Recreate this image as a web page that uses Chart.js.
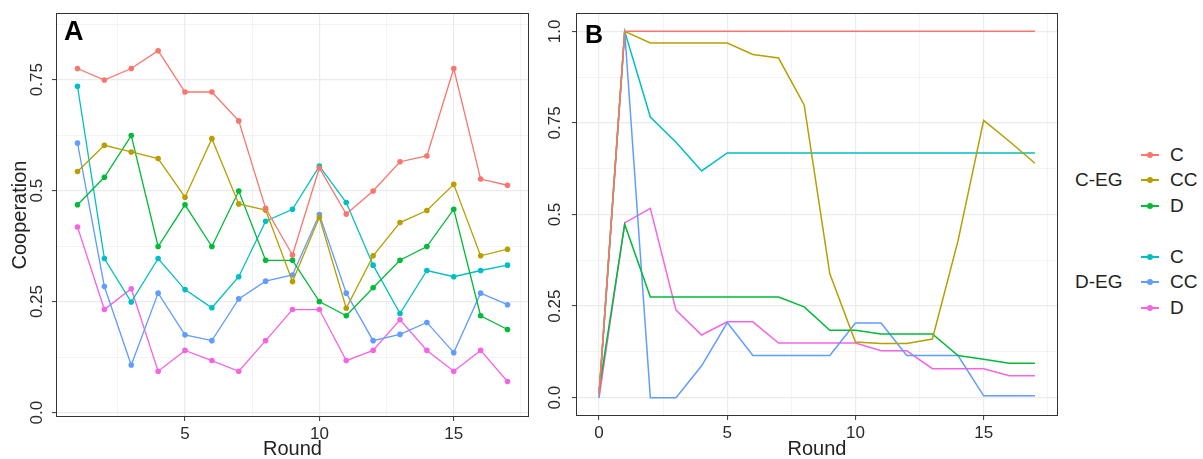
<!DOCTYPE html>
<html>
<head>
<meta charset="utf-8">
<script src="https://cdn.jsdelivr.net/npm/chart.js@4"></script>
<style>
  body { margin: 0; background: #fff; width: 1203px; height: 459px; position: relative; overflow: hidden;
         font-family: "Liberation Sans", Arial, sans-serif; }
  #boxA { position: absolute; left: 0; top: 0; width: 545px; height: 459px; }
  #boxB { position: absolute; left: 545px; top: 0; width: 520px; height: 459px; }
  #legend { position: absolute; left: 1072px; top: 142px; color: #222; }
  .grp { display: flex; align-items: center; height: 76.5px; margin-bottom: 25.5px; }
  .grp .title { width: 66px; padding-left: 3px; font-size: 19px; }
  .row { display: flex; align-items: center; height: 25.5px; font-size: 19px; }
  .key { position: relative; width: 18px; height: 10px; margin-right: 11px; }
  .key .ln { position: absolute; left: 0; top: 4px; width: 18px; height: 2px; }
  .key .dt { position: absolute; left: 6px; top: 2px; width: 6px; height: 6px; border-radius: 50%; }
</style>
</head>
<body>
<div id="boxA"><canvas id="chartA"></canvas></div>
<div id="boxB"><canvas id="chartB"></canvas></div>
<div id="legend"></div>
<script>
// ---- data ----
const roundsA = [1, 2, 3, 4, 5, 6, 7, 8, 9, 10, 11, 12, 13, 14, 15, 16, 17];
const roundsB = [0, 1, 2, 3, 4, 5, 6, 7, 8, 9, 10, 11, 12, 13, 14, 15, 16, 17];

const groups = ['C-EG', 'D-EG'];
const types = ['C', 'CC', 'D'];
const colors = [['#F8766D', '#B79F00', '#00BA38'], ['#00BFC4', '#619CFF', '#F564E3']];

// panel A (empirical)
const aCegC  = [0.775, 0.749, 0.775, 0.815, 0.722, 0.722, 0.657, 0.46, 0.355, 0.551, 0.447, 0.499, 0.565, 0.578, 0.775, 0.526, 0.512];
const aCegCC = [0.543, 0.602, 0.587, 0.572, 0.485, 0.617, 0.470, 0.456, 0.295, 0.44, 0.235, 0.353, 0.428, 0.455, 0.514, 0.353, 0.368];
const aCegD  = [0.468, 0.530, 0.624, 0.374, 0.468, 0.374, 0.499, 0.343, 0.343, 0.25, 0.218, 0.281, 0.343, 0.374, 0.458, 0.218, 0.187];
const aDegC  = [0.735, 0.347, 0.249, 0.347, 0.277, 0.236, 0.306, 0.431, 0.458, 0.555, 0.473, 0.332, 0.223, 0.320, 0.306, 0.320, 0.332];
const aDegCC = [0.607, 0.284, 0.107, 0.269, 0.175, 0.162, 0.256, 0.296, 0.310, 0.446, 0.269, 0.162, 0.176, 0.203, 0.135, 0.269, 0.243];
const aDegD  = [0.418, 0.232, 0.279, 0.093, 0.140, 0.117, 0.093, 0.162, 0.232, 0.232, 0.117, 0.140, 0.209, 0.140, 0.093, 0.140, 0.070];

// panel B (model)
const bCegC  = [0.01, 1, 1, 1, 1, 1, 1, 1, 1, 1, 1, 1, 1, 1, 1, 1, 1, 1];
const bCegCC = [0.01, 1.0, 0.968, 0.968, 0.968, 0.968, 0.937, 0.927, 0.799, 0.338, 0.152, 0.148, 0.148, 0.160, 0.428, 0.757, 0.70, 0.640];
const bCegD  = [0.02, 0.473, 0.275, 0.275, 0.275, 0.275, 0.275, 0.275, 0.248, 0.184, 0.184, 0.174, 0.174, 0.174, 0.115, 0.105, 0.094, 0.094];
const bDegC  = [0.01, 1.0, 0.766, 0.697, 0.619, 0.668, 0.668, 0.668, 0.668, 0.668, 0.668, 0.668, 0.668, 0.668, 0.668, 0.668, 0.668, 0.668];
const bDegCC = [0, 1.0, 0, 0, 0.087, 0.205, 0.115, 0.115, 0.115, 0.115, 0.204, 0.204, 0.115, 0.115, 0.115, 0.005, 0.005, 0.005];
const bDegD  = [0, 0.477, 0.517, 0.239, 0.171, 0.207, 0.207, 0.149, 0.149, 0.149, 0.149, 0.128, 0.128, 0.079, 0.079, 0.079, 0.060, 0.060];

// ticks
const yTickVals = [0, 0.25, 0.5, 0.75, 1];
const yTickLabels = ['0.0', '0.25', '0.5', '0.75', '1.0'];
const yGridVals = [0, 0.125, 0.25, 0.375, 0.5, 0.625, 0.75, 0.875, 1];
const xTickValsA = [5, 10, 15];
const xTickLabelsA = ['5', '10', '15'];
const xGridValsA = [2.5, 5, 7.5, 10, 12.5, 15, 17.5];
const xTickValsB = [0, 5, 10, 15];
const xTickLabelsB = ['0', '5', '10', '15'];
const xGridValsB = [0, 2.5, 5, 7.5, 10, 12.5, 15, 17.5];

const seriesA = [[aCegC, aCegCC, aCegD], [aDegC, aDegCC, aDegD]];
const seriesB = [[bCegC, bCegCC, bCegD], [bDegC, bDegCC, bDegD]];

// ---- helpers ----
const FONT = '"Liberation Sans", Arial, sans-serif';

function makeSets(series, xs, withPoints) {
    let sets = [];
    groups.forEach((g, gi) => {
        types.forEach((t, ti) => {
            sets.push({
                label: g + ' ' + t,
                data: series[gi][ti].map((v, i) => ({x: xs[i], y: v})),
                borderColor: colors[gi][ti],
                backgroundColor: colors[gi][ti],
                borderWidth: withPoints ? 1.3 : 1.5,
                pointRadius: withPoints ? 2.8 : 0,
                pointBorderWidth: 0,
                tension: 0
            });
        });
    });
    return sets;
}

function makeAxis(cfg) {
    const isMajor = v => cfg.labelVals.includes(v);
    return {
        type: 'linear',
        min: cfg.min, max: cfg.max,
        afterBuildTicks: s => { s.ticks = cfg.gridVals.filter(v => v >= cfg.min && v <= cfg.max).map(v => ({value: v})); },
        afterFit: s => { if (cfg.width) s.width = cfg.width; if (cfg.height) s.height = cfg.height; },
        border: {display: false},
        grid: {
            color: '#EBEBEB',
            lineWidth: c => (c.tick && isMajor(c.tick.value)) ? 1.2 : 0.6,
            drawTicks: true,
            tickLength: 4,
            tickWidth: 1,
            tickColor: c => (c.tick && isMajor(c.tick.value)) ? '#333' : 'rgba(0,0,0,0)'
        },
        ticks: {
            autoSkip: false,
            color: '#2a2a2a',
            font: {family: FONT, size: 17},
            padding: cfg.pad,
            minRotation: cfg.rot || 0,
            maxRotation: cfg.rot || 0,
            crossAlign: cfg.cross || 'near',
            callback: v => {
                const i = cfg.labelVals.indexOf(v);
                return i >= 0 ? cfg.labels[i] : '';
            }
        },
        title: cfg.title ? {
            display: true, text: cfg.title, color: '#222',
            font: {family: FONT, size: 20, lineHeight: 1},
            padding: cfg.titlePad
        } : {display: false}
    };
}

const frame = {
    id: 'frame',
    afterDatasetsDraw(chart, args, opts) {
        const {ctx, chartArea: a} = chart;
        ctx.save();
        ctx.strokeStyle = '#333';
        ctx.lineWidth = 1;
        ctx.strokeRect(a.left + 0.5, a.top + 0.5, a.right - a.left - 1, a.bottom - a.top - 1);
        ctx.fillStyle = '#000';
        ctx.font = 'bold ' + opts.size + 'px ' + FONT;
        ctx.textBaseline = 'alphabetic';
        ctx.fillText(opts.text, a.left + opts.dx, a.top + opts.dy);
        ctx.restore();
    }
};

function makeChart(id, sets, xAxis, yAxis, pad, letter) {
    return new Chart(document.getElementById(id), {
        type: 'line',
        data: {datasets: sets},
        options: {
            responsive: true,
            maintainAspectRatio: false,
            animation: false,
            layout: {padding: pad},
            plugins: {legend: {display: false}, tooltip: {enabled: false}, frame: letter},
            scales: {x: xAxis, y: yAxis}
        },
        plugins: [frame]
    });
}

// panel A
makeChart('chartA', makeSets(seriesA, roundsA, true),
    makeAxis({min: 0.2, max: 17.8, gridVals: xGridValsA, labelVals: xTickValsA, labels: xTickLabelsA,
              height: 42, pad: 3, title: 'Round', titlePad: {top: 0, bottom: 0}}),
    makeAxis({min: -0.01, max: 0.9, gridVals: yGridVals, labelVals: yTickVals, labels: yTickLabels,
              width: 56, pad: -2, rot: 90, cross: 'center', title: 'Cooperation', titlePad: {top: 10, bottom: 0}}),
    {left: 0, top: 13, right: 16, bottom: 0},
    {text: 'A', size: 27, dx: 8, dy: 27});

// panel B
makeChart('chartB', makeSets(seriesB, roundsB, false),
    makeAxis({min: -0.9, max: 17.9, gridVals: xGridValsB, labelVals: xTickValsB, labels: xTickLabelsB,
              height: 43, pad: 3, title: 'Round', titlePad: {top: 0, bottom: 0}}),
    makeAxis({min: -0.05, max: 1.05, gridVals: yGridVals, labelVals: yTickVals, labels: yTickLabels,
              width: 31, pad: 0, rot: 90, cross: 'center'}),
    {left: 0, top: 13, right: 7, bottom: 0},
    {text: 'B', size: 25, dx: 9, dy: 30});

// legend
const legend = document.getElementById('legend');
groups.forEach((g, gi) => {
    const grp = document.createElement('div');
    grp.className = 'grp';
    const title = document.createElement('div');
    title.className = 'title';
    title.textContent = g;
    grp.appendChild(title);
    const col = document.createElement('div');
    types.forEach((t, ti) => {
        const row = document.createElement('div');
        row.className = 'row';
        row.innerHTML = '<div class="key"><div class="ln" style="background:' + colors[gi][ti] + '"></div>' +
            '<div class="dt" style="background:' + colors[gi][ti] + '"></div></div><span>' + t + '</span>';
        col.appendChild(row);
    });
    grp.appendChild(col);
    legend.appendChild(grp);
});
</script>
</body>
</html>
